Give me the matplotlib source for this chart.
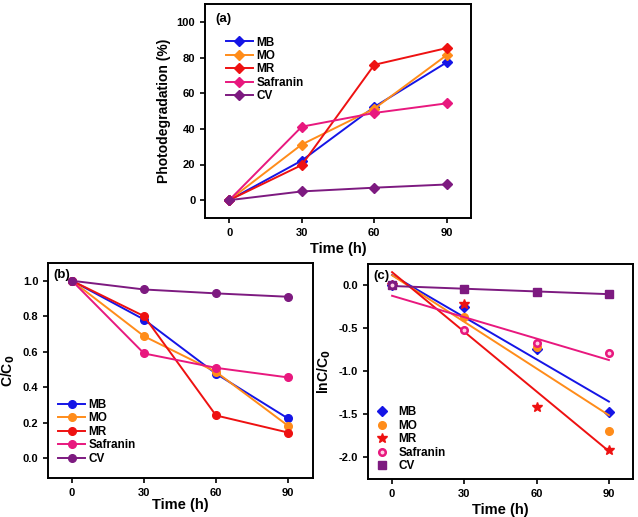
import numpy as np
import matplotlib
matplotlib.use("Agg")
import matplotlib.pyplot as plt
from matplotlib.lines import Line2D

plt.rcParams['font.family'] = ['Liberation Sans', 'DejaVu Sans']
plt.rcParams['font.weight'] = 'bold'
plt.rcParams['axes.labelweight'] = 'bold'

time = [0, 30, 60, 90]
dyes = ["MB", "MO", "MR", "Safranin", "CV"]
colors = ["#1515E6", "#FF8C1A", "#EE1111", "#E8187E", "#7D1A80"]

# (a) Photodegradation (%)
deg_MB = [0, 22.2, 52.3, 77.3]
deg_MO = [0, 31.2, 51.3, 81.4]
deg_MR = [0, 19.7, 75.9, 85.3]
deg_Saf = [0, 41.2, 48.9, 54.3]
deg_CV = [0, 4.9, 7.0, 8.8]

# (b) C/C0
cc_MB = [1.0, 0.782, 0.477, 0.225]
cc_MO = [1.0, 0.688, 0.487, 0.184]
cc_MR = [1.0, 0.801, 0.242, 0.146]
cc_Saf = [1.0, 0.591, 0.510, 0.456]
cc_CV = [1.0, 0.951, 0.929, 0.910]

# (c) lnC/C0
ln_MB = [0, -0.253, -0.737, -1.48]
ln_MO = [0, -0.374, -0.72, -1.70]
ln_MR = [0, -0.222, -1.415, -1.925]
ln_Saf = [0, -0.526, -0.674, -0.784]
ln_CV = [0, -0.047, -0.074, -0.097]

deg = [deg_MB, deg_MO, deg_MR, deg_Saf, deg_CV]
cc = [cc_MB, cc_MO, cc_MR, cc_Saf, cc_CV]
ln = [ln_MB, ln_MO, ln_MR, ln_Saf, ln_CV]
c_markers = ["D", "o", "*", "o", "s"]

W, H = 638, 517
fig = plt.figure(figsize=(W / 100, H / 100), dpi=100)

def px_axes(l, t, r, b):
    return fig.add_axes([l / W, (H - b) / H, (r - l) / W, (b - t) / H])

axa = px_axes(205, 4, 471, 218)
axb = px_axes(48, 263, 313, 478)
axc = px_axes(368, 264, 633, 479)

def style(ax):
    for s in ax.spines.values():
        s.set_linewidth(1.4)
    ax.tick_params(direction='out', length=3.5, width=1.2, labelsize=8)
    for lab in ax.get_xticklabels() + ax.get_yticklabels():
        lab.set_fontweight('bold')
    ax.set_xticks(time)

leg_kw = dict(frameon=False, labelspacing=0.12, borderaxespad=0, handletextpad=0.3,
              prop={'weight': 'bold', 'size': 8.5})

# panel a
for name, col, y in zip(dyes, colors, deg):
    axa.plot(time, y, color=col, marker='D', markersize=5.5, lw=1.4, label=name)
axa.set_xlim(-10, 100)
axa.set_ylim(-10, 110)
axa.set_yticks([0, 20, 40, 60, 80, 100])
axa.set_xlabel("Time (h)", fontsize=10.5, fontweight='bold', labelpad=3)
axa.set_ylabel("Photodegradation (%)", fontsize=10, fontweight='bold')
axa.text(0.04, 0.96, "(a)", transform=axa.transAxes, fontsize=9.5, fontweight='bold', va='top')
axa.legend(loc='upper left', bbox_to_anchor=(0.06, 0.87), handlelength=2.3, **leg_kw)
style(axa)

# panel b
for name, col, y in zip(dyes, colors, cc):
    axb.plot(time, y, color=col, marker='o', markersize=5.5, lw=1.4, label=name)
axb.set_xlim(-10, 100.4)
axb.set_ylim(-0.11, 1.1)
axb.set_yticks([0.0, 0.2, 0.4, 0.6, 0.8, 1.0])
axb.set_yticklabels(["0.0", "0.2", "0.4", "0.6", "0.8", "1.0"])
axb.set_xlabel("Time (h)", fontsize=10.5, fontweight='bold', labelpad=0)
axb.set_ylabel("C/C$_\\mathbf{0}$", fontsize=10, fontweight='bold')
axb.text(0.02, 0.97, "(b)", transform=axb.transAxes, fontsize=9.5, fontweight='bold', va='top')
axb.legend(loc='lower left', bbox_to_anchor=(0.02, 0.04), handlelength=2.3, **leg_kw)
style(axb)

# panel c
tx = np.array(time, dtype=float)
handles = []
for name, col, y, m in zip(dyes, colors, ln, c_markers):
    ms = 7 if m == "*" else 5.5
    h, = axc.plot(time, y, linestyle='none', marker=m, color=col, markersize=ms, label=name)
    handles.append(h)
    k, b0 = np.polyfit(tx, np.array(y), 1)
    xs = np.array([0.0, 90.0])
    axc.plot(xs, k * xs + b0, color=col, lw=1.4)
# highlight on safranin spheres
hl, = axc.plot(time, ln_Saf, linestyle='none', marker='o', color='#FFD0E6', markersize=1.8)
handles[3] = (handles[3], Line2D([], [], linestyle='none', marker='o', color='#FFD0E6', markersize=1.8))
axc.set_xlim(-10, 100)
axc.set_ylim(-2.26, 0.25)
axc.set_yticks([-2.0, -1.5, -1.0, -0.5, 0.0])
axc.set_yticklabels(["-2.0", "-1.5", "-1.0", "-0.5", "0.0"])
axc.set_xlabel("Time (h)", fontsize=10.5, fontweight='bold', labelpad=3)
axc.set_ylabel("lnC/C$_\\mathbf{0}$", fontsize=10, fontweight='bold')
axc.text(0.02, 0.97, "(c)", transform=axc.transAxes, fontsize=9.5, fontweight='bold', va='top')
axc.legend(handles, dyes, loc='lower left', bbox_to_anchor=(0.0, 0.01),
           handlelength=1.6, frameon=False, labelspacing=0.12, borderaxespad=0,
           handletextpad=0.6, prop={'weight': 'bold', 'size': 8.5})
style(axc)

fig.savefig("out.png", dpi=100)
